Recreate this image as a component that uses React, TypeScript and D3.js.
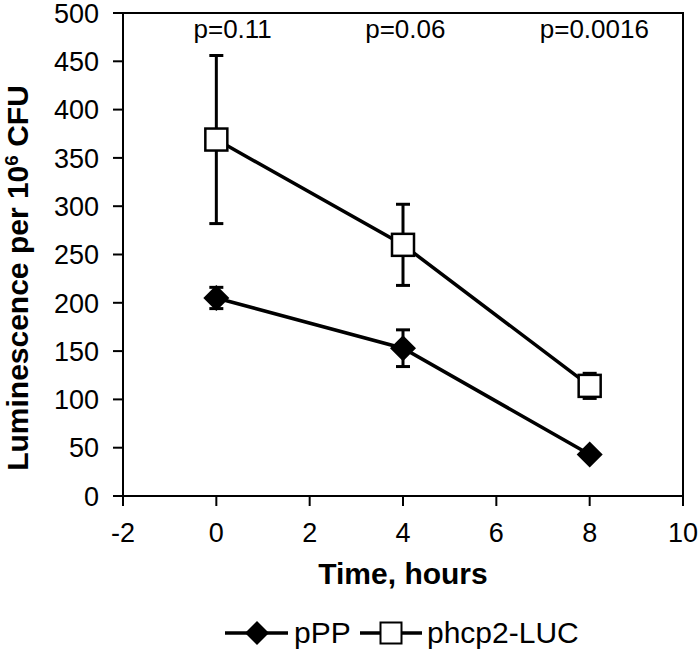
import React from "react";
import * as d3 from "d3";

const times = [0, 4, 8];
const pppMean = [205, 153, 43];
const pppErr = [11, 19, 4];
const lucMean = [369, 260, 114];
const lucErr = [87, 42, 13];
const pLabels = ["p=0.11", "p=0.06", "p=0.0016"];
const pLabelX = [0.35, 4.05, 8.1];
const xTicks = [-2, 0, 2, 4, 6, 8, 10];
const yTicks = [0, 50, 100, 150, 200, 250, 300, 350, 400, 450, 500];

const W = 700, H = 649;
const L = 123, R = 683, T = 13, B = 496;

export default function App() {
  const x = d3.scaleLinear().domain([-2, 10]).range([L, R]);
  const y = d3.scaleLinear().domain([0, 500]).range([B, T]);
  const line = d3.line<number>().x((_, i) => x(times[i])).y((v) => y(v));
  const font = "Arial, 'Liberation Sans', sans-serif";
  const sq = 22;
  const dm = 13;
  const diamond = (cx: number, cy: number, s: number) =>
    `M${cx},${cy - s}L${cx + s},${cy}L${cx},${cy + s}L${cx - s},${cy}Z`;
  const errBars = (means: number[], errs: number[]) =>
    means.map((m, i) => {
      const cx = x(times[i]);
      const y1 = y(m + errs[i]);
      const y2 = y(m - errs[i]);
      return (
        <g key={i} stroke="#000" strokeWidth={3}>
          <line x1={cx} x2={cx} y1={y1} y2={y2} />
          <line x1={cx - 7} x2={cx + 7} y1={y1} y2={y1} />
          <line x1={cx - 7} x2={cx + 7} y1={y2} y2={y2} />
        </g>
      );
    });
  return (
    <svg width={W} height={H} style={{ position: "absolute", left: 0, top: 0, background: "#fff" }} fontFamily={font}>
      <rect x={0} y={0} width={W} height={H} fill="#fff" />
      <rect x={L} y={T} width={R - L} height={B - T} fill="none" stroke="#000" strokeWidth={2} />
      {yTicks.map((t) => (
        <g key={t}>
          <line x1={L - 10} x2={L} y1={y(t)} y2={y(t)} stroke="#000" strokeWidth={2} />
          <text x={L - 24} y={y(t)} dy="0.36em" textAnchor="end" fontSize={27}>{t}</text>
        </g>
      ))}
      {xTicks.map((t) => (
        <g key={t}>
          <line x1={x(t)} x2={x(t)} y1={B} y2={B + 10} stroke="#000" strokeWidth={2} />
          <text x={x(t)} y={542} textAnchor="middle" fontSize={27}>{t}</text>
        </g>
      ))}
      {errBars(lucMean, lucErr)}
      {errBars(pppMean, pppErr)}
      <path d={line(lucMean) || ""} fill="none" stroke="#000" strokeWidth={3.5} />
      <path d={line(pppMean) || ""} fill="none" stroke="#000" strokeWidth={3.5} />
      {lucMean.map((m, i) => (
        <rect key={i} x={x(times[i]) - sq / 2} y={y(m) - sq / 2} width={sq} height={sq} fill="#fff" stroke="#000" strokeWidth={2.5} />
      ))}
      {pppMean.map((m, i) => (
        <path key={i} d={diamond(x(times[i]), y(m), dm)} fill="#000" />
      ))}
      {pLabels.map((p, i) => (
        <text key={p} x={x(pLabelX[i])} y={38} textAnchor="middle" fontSize={26}>{p}</text>
      ))}
      <text x={(L + R) / 2} y={584} textAnchor="middle" fontSize={30} fontWeight="bold">Time, hours</text>
      <text transform={`translate(28,278) rotate(-90)`} textAnchor="middle" fontSize={30} fontWeight="bold">
        Luminescence per 10<tspan dy={-10} fontSize={19}>6</tspan><tspan dy={10}> CFU</tspan>
      </text>
      <g>
        <line x1={225} x2={288} y1={633} y2={633} stroke="#000" strokeWidth={3.5} />
        <path d={diamond(257, 633, 12)} fill="#000" />
        <text x={294} y={643} fontSize={30}>pPP</text>
        <line x1={360} x2={422} y1={633} y2={633} stroke="#000" strokeWidth={3.5} />
        <rect x={380.5} y={622.5} width={21} height={21} fill="#fff" stroke="#000" strokeWidth={2} />
        <text x={427} y={643} fontSize={30}>phcp2-LUC</text>
      </g>
    </svg>
  );
}
